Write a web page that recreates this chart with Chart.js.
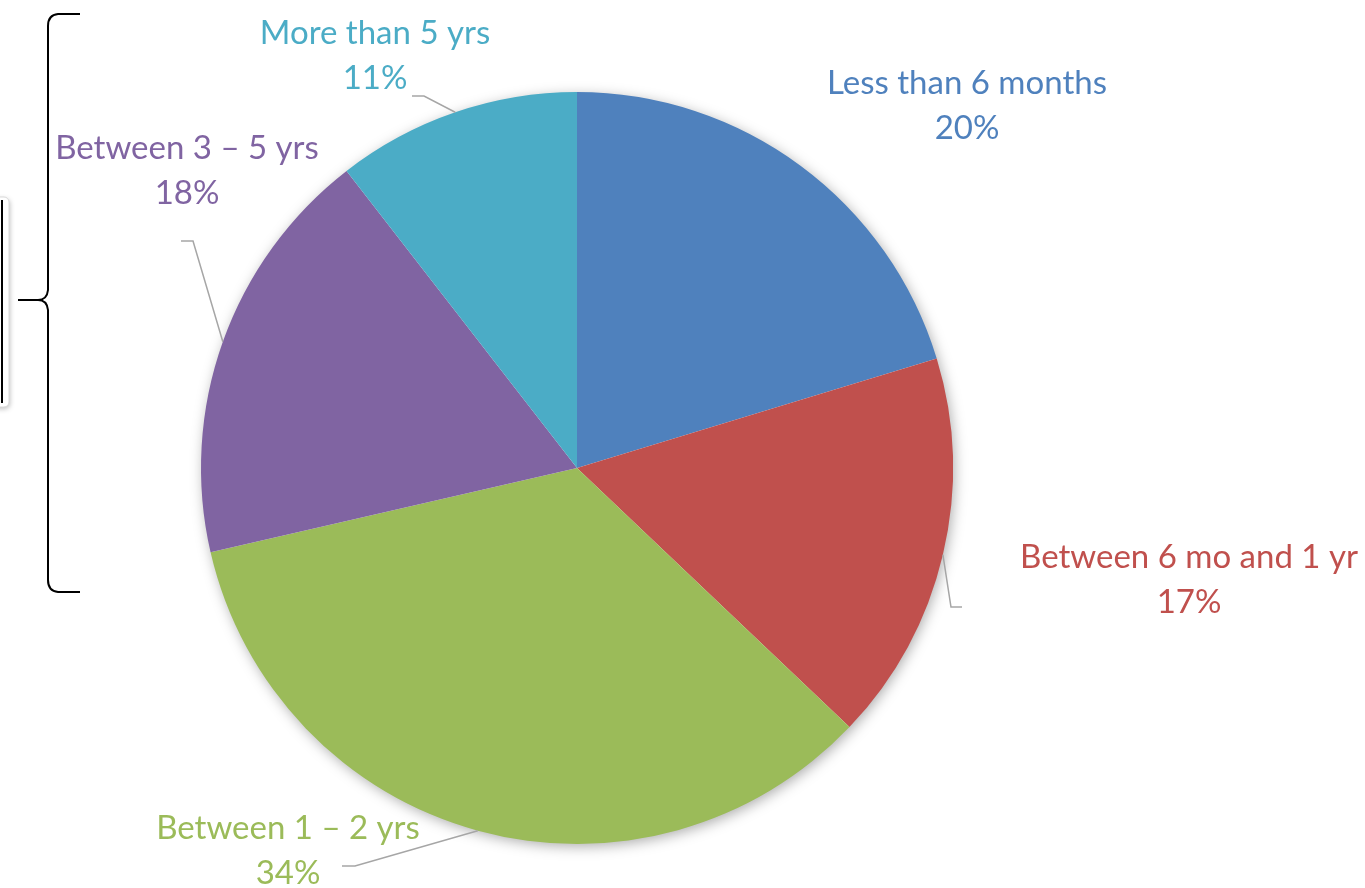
<!DOCTYPE html>
<html>
<head>
<meta charset="utf-8">
<script src="https://cdn.jsdelivr.net/npm/chart.js@4.4.1/dist/chart.umd.min.js"></script>
<style>
    html, body { margin: 0; padding: 0; background: #fff; }
    #wrap { width: 1365px; height: 888px; position: relative; }
</style>
</head>
<body>
<div id="wrap"><canvas id="tenureChart"></canvas></div>
<script>
// data (slice sizes read from the slice edges, labels show rounded values)
const categories = ['Less than 6 months', 'Between 6 mo and 1 yr', 'Between 1 – 2 yrs', 'Between 3 – 5 yrs', 'More than 5 yrs'];
const shares = [20.3, 16.8, 34.3, 18.1, 10.5];
const sliceColors = ['#4F81BD', '#C0504D', '#9BBB59', '#8064A2', '#4BACC6'];

// label placement (centre of first text line) and leader elbows
const labelSpots = [
    { x: 967, y: 83 },
    { x: 1189, y: 557 },
    { x: 288, y: 828 },
    { x: 187, y: 148 },
    { x: 375, y: 33 }
];
const leaderElbows = [
    null,
    [[951, 607], [962, 607]],
    [[355, 866], [342, 866]],
    [[193, 241], [181, 241]],
    [[424, 96], [412, 96]]
];

const FONT = '33px Lato, "Open Sans", sans-serif';

// soft shadow under the pie, like the office chart
const pieShadow = {
    id: 'pieShadow',
    beforeDatasetsDraw(chart) {
        const arc = chart.getDatasetMeta(0).data[0];
        if (!arc) return;
        const ctx = chart.ctx;
        ctx.save();
        ctx.shadowColor = 'rgba(0,0,0,0.35)';
        ctx.shadowBlur = 14;
        ctx.shadowOffsetX = 2;
        ctx.shadowOffsetY = 3;
        ctx.fillStyle = '#fff';
        ctx.beginPath();
        ctx.arc(arc.x, arc.y, arc.outerRadius - 1, 0, Math.PI * 2);
        ctx.fill();
        ctx.restore();
    }
};

// labels with leader lines
const sliceLabels = {
    id: 'sliceLabels',
    afterDatasetsDraw(chart) {
        const ctx = chart.ctx;
        const meta = chart.getDatasetMeta(0);
        ctx.save();
        meta.data.forEach((arc, i) => {
            const elbow = leaderElbows[i];
            if (elbow) {
                const mid = (arc.startAngle + arc.endAngle) / 2;
                const sx = arc.x + Math.cos(mid) * arc.outerRadius;
                const sy = arc.y + Math.sin(mid) * arc.outerRadius;
                ctx.strokeStyle = '#a6a6a6';
                ctx.lineWidth = 1.5;
                ctx.beginPath();
                ctx.moveTo(sx, sy);
                elbow.forEach(p => ctx.lineTo(p[0], p[1]));
                ctx.stroke();
            }
            const spot = labelSpots[i];
            ctx.font = FONT;
            ctx.fillStyle = sliceColors[i];
            ctx.textAlign = 'center';
            ctx.textBaseline = 'middle';
            ctx.fillText(categories[i], spot.x, spot.y);
            ctx.fillText(Math.round(shares[i]) + '%', spot.x, spot.y + 45);
        });
        ctx.restore();
    }
};

// the brace and the clipped box on the left edge
const leftDecor = {
    id: 'leftDecor',
    afterDraw(chart) {
        const ctx = chart.ctx;
        ctx.save();
        // clipped box
        ctx.shadowColor = 'rgba(0,0,0,0.25)';
        ctx.shadowBlur = 5;
        ctx.shadowOffsetX = 1;
        ctx.shadowOffsetY = 2;
        ctx.fillStyle = '#fff';
        ctx.beginPath();
        ctx.roundRect(-30, 197, 39, 210, 5);
        ctx.fill();
        ctx.shadowColor = 'transparent';
        ctx.strokeStyle = '#d9d9d9';
        ctx.lineWidth = 1;
        ctx.stroke();
        ctx.strokeStyle = '#000';
        ctx.lineWidth = 2;
        ctx.beginPath();
        ctx.moveTo(2, 200);
        ctx.lineTo(2, 403);
        ctx.stroke();

        // curly brace
        ctx.strokeStyle = '#000';
        ctx.lineWidth = 2;
        ctx.beginPath();
        ctx.moveTo(80, 14);
        ctx.lineTo(58, 14);
        ctx.quadraticCurveTo(48, 15, 48, 26);
        ctx.lineTo(48, 290);
        ctx.quadraticCurveTo(47, 300, 38, 300);
        ctx.lineTo(18, 300);
        ctx.moveTo(38, 300);
        ctx.quadraticCurveTo(47, 300, 48, 310);
        ctx.lineTo(48, 580);
        ctx.quadraticCurveTo(48, 591, 58, 592);
        ctx.lineTo(80, 592);
        ctx.stroke();
        ctx.restore();
    }
};

new Chart(document.getElementById('tenureChart'), {
    type: 'pie',
    data: {
        labels: categories,
        datasets: [{
            data: shares,
            backgroundColor: sliceColors,
            borderWidth: 0
        }]
    },
    options: {
        responsive: true,
        maintainAspectRatio: false,
        animation: false,
        layout: {
            padding: { left: 201, right: 412, top: 92, bottom: 44 }
        },
        plugins: {
            legend: { display: false },
            tooltip: { enabled: false }
        }
    },
    plugins: [pieShadow, sliceLabels, leftDecor]
});
</script>
</body>
</html>
